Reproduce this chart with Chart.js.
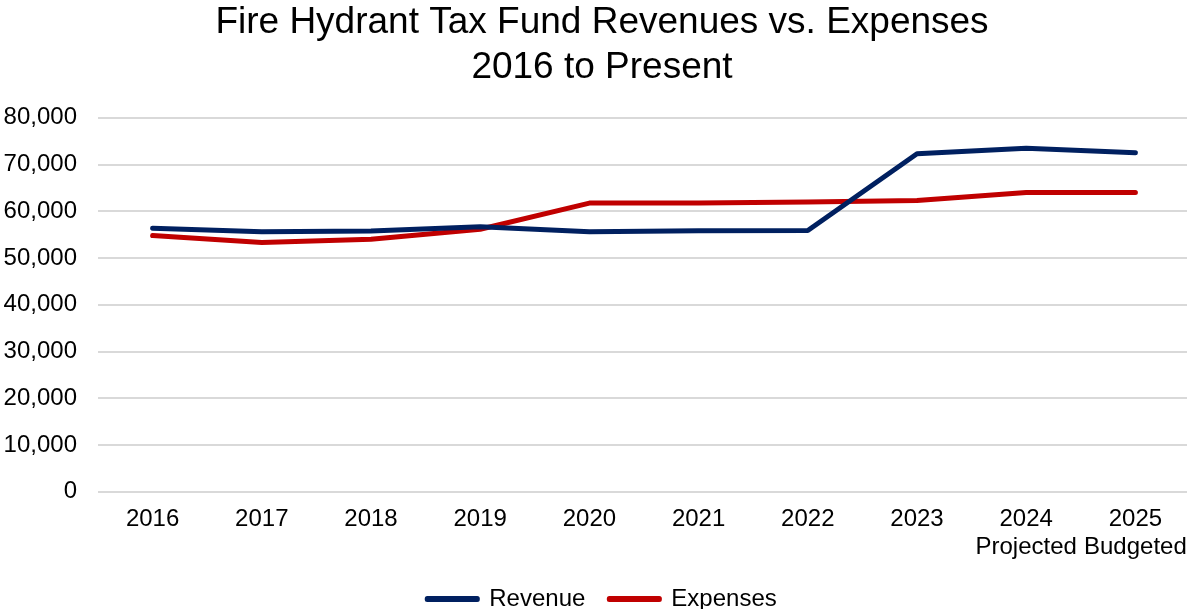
<!DOCTYPE html>
<html>
<head>
<meta charset="utf-8">
<script src="https://cdn.jsdelivr.net/npm/chart.js@4/dist/chart.umd.min.js"></script>
<style>
  html, body { margin: 0; padding: 0; background: #fff; overflow: hidden; }
  body { width: 1187px; height: 609px; }
  #wrap { width: 1204px; height: 609px; }
</style>
</head>
<body>
<div id="wrap"><canvas id="chart"></canvas></div>
<script>
// fiscal years, last two carry a note underneath
const years = ['2016', '2017', '2018', '2019', '2020', '2021', '2022', '2023',
  ['2024', 'Projected'], ['2025', 'Budgeted']];

const revenue = [56400, 55650, 55800, 56700, 55650, 55850, 55900, 72300, 73500, 72500];
const expenses = [54800, 53350, 54000, 56150, 61750, 61800, 62000, 62300, 64000, 64000];

const yMax = 80000;
const yStep = 10000;

Chart.defaults.font.family = 'Arial, "Liberation Sans", sans-serif';
Chart.defaults.color = '#000';

const ctx = document.getElementById('chart').getContext('2d');
new Chart(ctx, {
  type: 'line',
  data: {
    labels: years,
    datasets: [{
      label: 'Revenue',
      data: revenue,
      borderColor: '#002060',
      backgroundColor: '#002060',
      borderWidth: 5,
      borderCapStyle: 'round',
      borderJoinStyle: 'round',
      pointRadius: 0,
      tension: 0,
      fill: false
    }, {
      label: 'Expenses',
      data: expenses,
      borderColor: '#C00000',
      backgroundColor: '#C00000',
      borderWidth: 5,
      borderCapStyle: 'round',
      borderJoinStyle: 'round',
      pointRadius: 0,
      tension: 0,
      fill: false
    }]
  },
  options: {
    responsive: true,
    maintainAspectRatio: false,
    animation: false,
    layout: { padding: { left: 0, right: 0, top: 0, bottom: -12 } },
    plugins: {
      title: {
        display: true,
        text: ['Fire Hydrant Tax Fund Revenues vs. Expenses', '2016 to Present'],
        font: { size: 37, weight: 'normal', lineHeight: 1.2 },
        color: '#000',
        padding: { top: 1, bottom: 28 }
      },
      legend: {
        position: 'bottom',
        labels: {
          boxWidth: 50,
          boxHeight: 1,
          padding: 24,
          font: { size: 24 },
          color: '#000'
        }
      },
      tooltip: { enabled: false }
    },
    scales: {
      x: {
        offset: true,
        grid: { display: false, drawTicks: false },
        border: { display: false },
        ticks: {
          font: { size: 24, lineHeight: 1.15 },
          padding: 14,
          maxRotation: 0,
          autoSkip: false
        },
        afterFit: scale => {
          // pull the legend closer to the tick labels
          scale.height -= 12;
          // plot runs almost to the right edge
          scale.paddingLeft = 0;
          scale.paddingRight = 14;
        }
      },
      y: {
        min: 0,
        max: yMax,
        grid: { color: '#d9d9d9', lineWidth: 2, drawTicks: false },
        border: { display: false },
        ticks: {
          stepSize: yStep,
          font: { size: 24 },
          padding: 21,
          callback: v => v.toLocaleString('en-US')
        },
        afterFit: scale => { scale.width = 98; }
      }
    }
  }
});
</script>
</body>
</html>
